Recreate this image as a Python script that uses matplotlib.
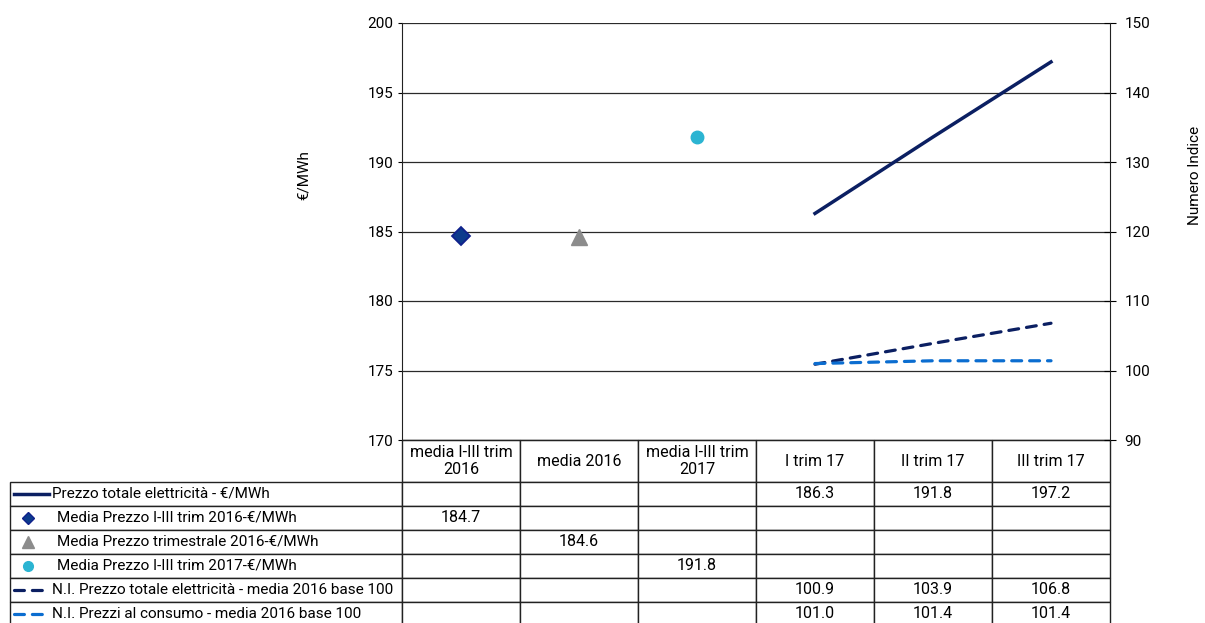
import matplotlib
matplotlib.use("Agg")
import matplotlib.pyplot as plt
from matplotlib.lines import Line2D
import numpy as np

plt.rcParams['font.family'] = ['Roboto', 'DejaVu Sans']

categories = ["media I-III trim\n2016", "media 2016", "media I-III trim\n2017",
              "I trim 17", "II trim 17", "III trim 17"]
nan = np.nan
prezzo_totale = [nan, nan, nan, 186.3, 191.8, 197.2]
media_i_iii_2016 = [184.7, nan, nan, nan, nan, nan]
media_trim_2016 = [nan, 184.6, nan, nan, nan, nan]
media_i_iii_2017 = [nan, nan, 191.8, nan, nan, nan]
ni_prezzo_totale = [nan, nan, nan, 100.9, 103.9, 106.8]
ni_prezzi_consumo = [nan, nan, nan, 101.0, 101.4, 101.4]

series_labels = ["Prezzo totale elettricità - €/MWh",
                 "Media Prezzo I-III trim 2016-€/MWh",
                 "Media Prezzo trimestrale 2016-€/MWh",
                 "Media Prezzo I-III trim 2017-€/MWh",
                 "N.I. Prezzo totale elettricità - media 2016 base 100",
                 "N.I. Prezzi al consumo - media 2016 base 100"]

navy = "#0b1f62"
blue = "#0b6dd0"
cyan = "#2bb4d2"
grey = "#8c8c8c"
dash = dict(lw=2.3, dashes=(3.1, 2.5), dash_capstyle="round")

W, H = 1205, 623
fig = plt.figure(figsize=(W / 100, H / 100), dpi=100)
# plot area in pixels: x 402..1110, y 23..440
ax = fig.add_axes([402 / W, 1 - 440 / H, 708 / W, 417 / H])
ax2 = ax.twinx()

x = np.arange(len(categories))

ax.plot(x, prezzo_totale, color=navy, lw=2.5, zorder=4)
ax.plot(x, media_i_iii_2016, ls="none", marker="D", ms=9, mfc="#0c3b8c",
        mec="#10218c", mew=1.3, zorder=5)
ax.plot(x, media_trim_2016, ls="none", marker="^", ms=12, color=grey, zorder=5)
ax.plot(x, media_i_iii_2017, ls="none", marker="o", ms=9, color=cyan, zorder=5)
ax2.plot(x, ni_prezzo_totale, color=navy, **dash)
ax2.plot(x, ni_prezzi_consumo, color=blue, **dash)

ax.set_xlim(-0.5, 5.5)
ax.set_ylim(170, 200)
ax.set_yticks(np.arange(170, 201, 5))
ax2.set_ylim(90, 150)
ax2.set_yticks(np.arange(90, 151, 10))
ax.set_xticks([])
ax.grid(axis="y", color="#2a2a2a", lw=0.9)
ax.set_axisbelow(True)

for s in ["top", "right"]:
    ax.spines[s].set_visible(False)
for s in ["top", "left", "bottom"]:
    ax2.spines[s].set_visible(False)
ax.spines["left"].set_color("#222222")
ax.spines["bottom"].set_color("#222222")
ax2.spines["right"].set_color("#222222")

ax.tick_params(axis="y", direction="out", length=3, labelsize=11, pad=3)
ax2.tick_params(axis="y", direction="inout", length=9, labelsize=11, pad=6)

ax.set_ylabel("€/MWh", fontsize=11)
ax.yaxis.set_label_coords((311 - 402) / 708, (440 - 175) / 417)
ax2.set_ylabel("Numero Indice", fontsize=11)
ax2.yaxis.set_label_coords((1188 - 402) / 708, (440 - 175) / 417)

# data table under the plot
all_series = [prezzo_totale, media_i_iii_2016, media_trim_2016,
              media_i_iii_2017, ni_prezzo_totale, ni_prezzi_consumo]
cell_text = [[""] + categories]
for s in all_series:
    cell_text.append([""] + ["" if np.isnan(v) else f"{v:.1f}" for v in s])

label_w, col_w = 392, 118
head_h, row_h = 42, 24
tab_h = head_h + row_h * len(all_series)
tab = ax.table(cellText=cell_text, cellLoc="center",
               bbox=[-label_w / 708, -tab_h / 417, (label_w + 708) / 708, tab_h / 417])
tab.auto_set_font_size(False)
tab.set_fontsize(11.5)
for (r, c), cell in tab.get_celld().items():
    cell.set_width(label_w if c == 0 else col_w)
    cell.set_height(head_h if r == 0 else row_h)
    cell.set_edgecolor("#222222")
    cell.set_linewidth(1.0)
    if r == 0 and c == 0:
        cell.visible_edges = ""

# legend keys and series names in the first table column
key_styles = [dict(color=navy, lw=2.5),
              dict(ls="none", marker="D", ms=6.5, mfc="#0c3b8c", mec="#10218c"),
              dict(ls="none", marker="^", ms=8, color=grey),
              dict(ls="none", marker="o", ms=7, color=cyan),
              dict(color=navy, **dash),
              dict(color=blue, **dash)]
for i, (lab, st) in enumerate(zip(series_labels, key_styles)):
    yc = (440 - (440 + head_h + row_h * i + row_h / 2)) / 417
    if st.get("ls") == "none":
        ax.add_line(Line2D([(28 - 402) / 708], [yc], transform=ax.transAxes,
                           clip_on=False, **st))
        tx = 57
    else:
        ax.add_line(Line2D([(14 - 402) / 708, (49 - 402) / 708], [yc, yc],
                           transform=ax.transAxes, clip_on=False, **st))
        tx = 52
    ax.text((tx - 402) / 708, yc, lab, transform=ax.transAxes, ha="left",
            va="center", fontsize=11)

fig.savefig("out.png", dpi=100)
